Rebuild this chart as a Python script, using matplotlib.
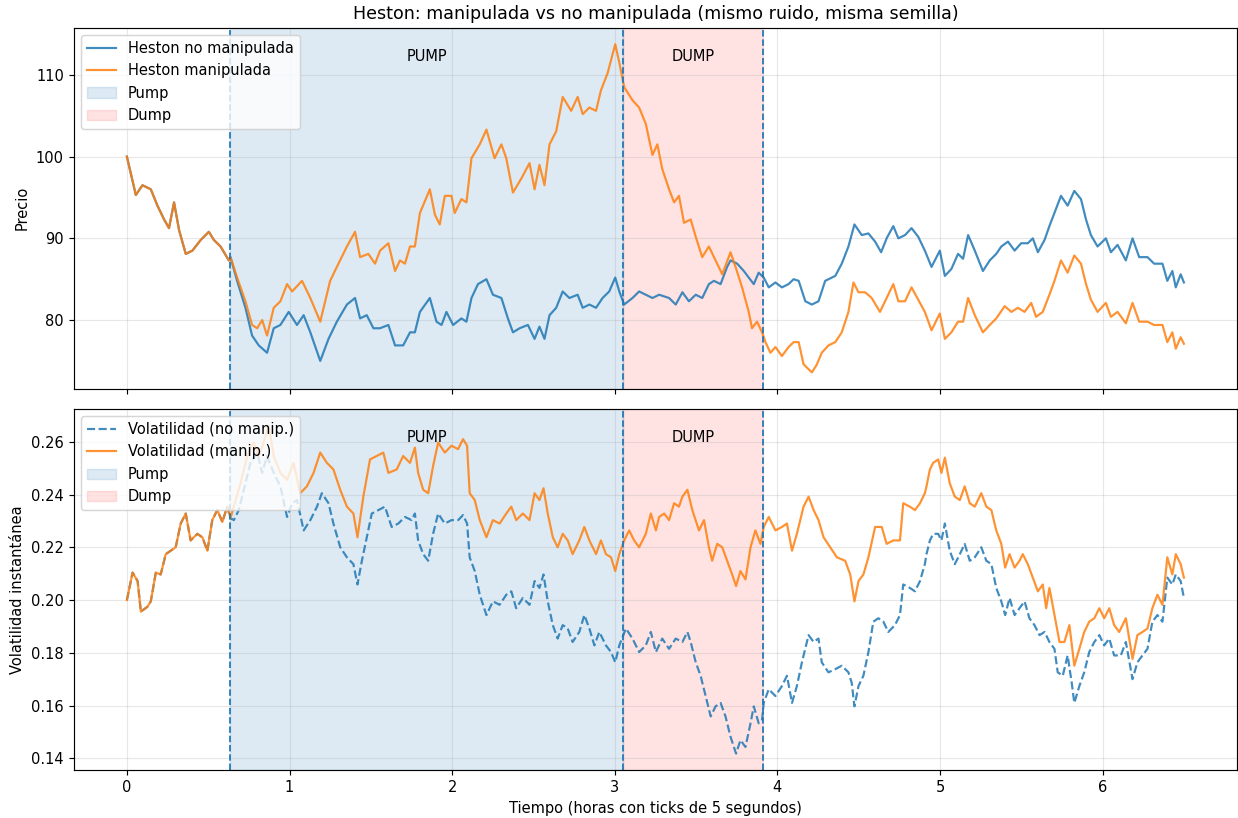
import numpy as np
import matplotlib
matplotlib.use("Agg")
import matplotlib.pyplot as plt
import matplotlib.transforms as mtransforms

# Event windows (hours)
pump_start, pump_end, dump_end = 0.637, 3.052, 3.910

# ---- Price: common path before the pump ----
t_price_pre = [0.0, 0.055, 0.096, 0.147, 0.188, 0.229, 0.259, 0.290, 0.321, 0.362,
               0.403, 0.454, 0.504, 0.535, 0.576, 0.627, 0.637]
price_pre = [100.0, 95.3, 96.5, 96.0, 94.0, 92.3, 91.25, 94.4, 91.0, 88.1,
             88.5, 89.8, 90.8, 89.8, 89.0, 87.3, 87.7]

# ---- Price without manipulation (after pump start) ----
t_price_base = [0.678, 0.729, 0.770, 0.811, 0.862, 0.903, 0.944, 0.995, 1.046, 1.087,
                1.128, 1.189, 1.240, 1.291, 1.353, 1.403, 1.434, 1.475, 1.516, 1.557,
                1.608, 1.649, 1.699, 1.741, 1.771, 1.802, 1.863, 1.904, 1.935, 1.965,
                2.006, 2.057, 2.088, 2.119, 2.159, 2.211, 2.251, 2.303, 2.343, 2.374,
                2.415, 2.466, 2.507, 2.537, 2.568, 2.599, 2.640, 2.680, 2.721, 2.772,
                2.803, 2.844, 2.885, 2.925, 2.966, 3.003, 3.028, 3.058, 3.109, 3.150,
                3.191, 3.232, 3.273, 3.334, 3.375, 3.416, 3.456, 3.498, 3.538, 3.579,
                3.610, 3.651, 3.691, 3.712, 3.753, 3.794, 3.824, 3.855, 3.885, 3.916,
                3.947, 3.988, 4.028, 4.069, 4.100, 4.131, 4.172, 4.212, 4.253, 4.294,
                4.356, 4.396, 4.437, 4.474, 4.519, 4.560, 4.601, 4.638, 4.672, 4.713,
                4.744, 4.785, 4.825, 4.866, 4.907, 4.948, 4.999, 5.030, 5.070, 5.111,
                5.142, 5.173, 5.214, 5.264, 5.306, 5.346, 5.377, 5.418, 5.459, 5.499,
                5.540, 5.571, 5.602, 5.643, 5.673, 5.704, 5.744, 5.785, 5.826, 5.867,
                5.898, 5.928, 5.969, 6.020, 6.051, 6.092, 6.143, 6.184, 6.225, 6.276,
                6.317, 6.368, 6.398, 6.429, 6.450, 6.480, 6.500]
price_base = [84.8, 81.5, 78.1, 76.9, 76.0, 79.0, 79.4, 81.0, 79.4, 80.6,
              78.5, 75.0, 77.7, 79.8, 81.9, 82.7, 80.2, 80.6, 79.0, 79.0,
              79.4, 76.9, 76.9, 78.5, 78.5, 81.0, 82.7, 79.8, 79.4, 81.0,
              79.4, 80.2, 79.8, 82.7, 84.4, 85.0, 83.1, 82.7, 80.2, 78.5,
              79.0, 79.4, 77.7, 79.2, 77.7, 80.6, 81.5, 83.5, 82.7, 83.1,
              81.5, 81.9, 81.5, 82.7, 83.5, 85.2, 83.5, 81.9, 82.7, 83.5,
              83.1, 82.7, 83.1, 82.7, 81.9, 83.4, 82.3, 83.1, 82.7, 84.4,
              84.8, 84.4, 86.5, 87.3, 86.9, 86.0, 85.2, 84.4, 85.8, 85.2,
              84.0, 84.6, 84.0, 84.4, 85.0, 84.8, 82.3, 81.9, 82.3, 84.8,
              85.4, 86.9, 89.0, 91.7, 90.4, 90.6, 89.6, 88.3, 90.0, 91.5,
              90.0, 90.4, 91.25, 90.2, 88.5, 86.5, 88.5, 85.4, 86.25, 88.1,
              87.5, 90.4, 88.5, 86.0, 87.3, 88.1, 89.0, 89.6, 88.5, 89.4,
              89.4, 90.0, 88.3, 89.8, 91.5, 93.1, 95.2, 94.0, 95.8, 94.8,
              92.3, 90.4, 89.0, 90.0, 88.3, 89.2, 87.3, 90.0, 87.7, 87.7,
              86.9, 86.9, 84.8, 86.0, 84.0, 85.6, 84.6]

# ---- Price with manipulation (after pump start) ----
t_price_manip = [0.678, 0.729, 0.770, 0.801, 0.832, 0.862, 0.903, 0.944, 0.985, 1.016,
                 1.077, 1.128, 1.189, 1.250, 1.291, 1.353, 1.403, 1.434, 1.485, 1.526,
                 1.557, 1.608, 1.649, 1.679, 1.710, 1.741, 1.771, 1.802, 1.863, 1.894,
                 1.924, 1.955, 1.996, 2.016, 2.057, 2.088, 2.119, 2.170, 2.211, 2.261,
                 2.303, 2.333, 2.374, 2.425, 2.476, 2.507, 2.537, 2.568, 2.599, 2.640,
                 2.680, 2.732, 2.772, 2.803, 2.844, 2.885, 2.915, 2.956, 3.003, 3.028,
                 3.058, 3.109, 3.150, 3.191, 3.232, 3.262, 3.292, 3.334, 3.365, 3.395,
                 3.426, 3.467, 3.498, 3.538, 3.579, 3.620, 3.661, 3.712, 3.743, 3.783,
                 3.824, 3.844, 3.875, 3.906, 3.927, 3.957, 3.988, 4.028, 4.069, 4.100,
                 4.131, 4.161, 4.212, 4.241, 4.273, 4.314, 4.356, 4.396, 4.437, 4.468,
                 4.499, 4.540, 4.580, 4.631, 4.672, 4.713, 4.744, 4.785, 4.825, 4.866,
                 4.907, 4.948, 4.999, 5.030, 5.070, 5.111, 5.142, 5.173, 5.214, 5.264,
                 5.306, 5.346, 5.398, 5.439, 5.479, 5.520, 5.561, 5.591, 5.632, 5.673,
                 5.704, 5.744, 5.785, 5.826, 5.867, 5.898, 5.928, 5.969, 6.020, 6.051,
                 6.092, 6.143, 6.184, 6.225, 6.276, 6.317, 6.368, 6.398, 6.429, 6.450,
                 6.480, 6.500]
price_manip = [85.2, 82.3, 79.4, 79.0, 80.0, 78.1, 81.5, 82.3, 84.4, 83.5,
               84.8, 82.7, 79.8, 84.8, 86.5, 89.0, 90.8, 87.7, 88.1, 86.9,
               88.5, 89.4, 86.0, 87.3, 86.9, 89.0, 89.0, 93.1, 96.0, 92.9,
               91.7, 95.2, 95.2, 93.1, 94.8, 94.4, 99.8, 101.5, 103.3, 99.8,
               101.5, 99.8, 95.6, 97.3, 99.2, 96.0, 99.0, 96.5, 101.5, 103.1,
               107.3, 105.6, 107.3, 105.2, 106.0, 105.6, 108.1, 110.2, 113.75, 111.5,
               108.5, 106.9, 106.0, 104.0, 100.2, 101.5, 98.5, 96.0, 94.4, 95.2,
               91.9, 92.3, 90.2, 87.7, 89.0, 87.3, 85.6, 88.3, 86.5, 84.0,
               81.0, 79.0, 79.8, 78.5, 77.3, 76.0, 76.7, 75.6, 76.7, 77.3,
               77.3, 74.6, 73.6, 74.5, 76.0, 76.9, 77.3, 78.5, 81.0, 84.6,
               83.4, 83.4, 82.7, 81.0, 82.7, 84.4, 82.3, 82.3, 84.0, 82.5,
               81.0, 78.75, 80.8, 77.7, 78.5, 79.8, 79.8, 82.7, 80.6, 78.5,
               79.4, 80.2, 81.7, 81.0, 81.5, 81.0, 82.1, 80.4, 81.0, 83.1,
               84.8, 87.3, 85.8, 87.9, 86.9, 84.4, 82.5, 81.0, 82.1, 80.4,
               81.0, 79.6, 82.1, 79.8, 79.8, 79.4, 79.4, 77.3, 78.5, 76.5,
               77.9, 77.1]

# ---- Volatility: common path before the pump ----
t_vol_pre = [0.0, 0.035, 0.066, 0.086, 0.127, 0.147, 0.178, 0.208, 0.239, 0.270,
             0.300, 0.331, 0.362, 0.392, 0.433, 0.464, 0.495, 0.525, 0.556, 0.587,
             0.617, 0.637]
vol_pre = [0.2000, 0.2104, 0.2072, 0.1956, 0.1975, 0.1995, 0.2104, 0.2097, 0.2174, 0.2187,
           0.2200, 0.2290, 0.2328, 0.2226, 0.2251, 0.2238, 0.2187, 0.2303, 0.2341, 0.2296,
           0.2354, 0.2310]

# ---- Volatility without manipulation (after pump start) ----
t_vol_base = [0.658, 0.688, 0.719, 0.760, 0.801, 0.832, 0.862, 0.903, 0.944, 0.985,
              1.016, 1.046, 1.087, 1.128, 1.169, 1.199, 1.240, 1.270, 1.312, 1.353,
              1.393, 1.418, 1.445, 1.475, 1.506, 1.546, 1.587, 1.628, 1.669, 1.710,
              1.751, 1.771, 1.791, 1.822, 1.853, 1.883, 1.914, 1.955, 1.996, 2.037,
              2.067, 2.092, 2.108, 2.139, 2.170, 2.211, 2.251, 2.292, 2.333, 2.364,
              2.394, 2.435, 2.476, 2.507, 2.537, 2.562, 2.588, 2.619, 2.649, 2.680,
              2.711, 2.741, 2.782, 2.813, 2.844, 2.875, 2.905, 2.946, 2.977, 3.003,
              3.028, 3.069, 3.109, 3.150, 3.191, 3.222, 3.253, 3.292, 3.334, 3.375,
              3.416, 3.447, 3.467, 3.498, 3.528, 3.569, 3.590, 3.620, 3.651, 3.681,
              3.712, 3.746, 3.773, 3.804, 3.835, 3.855, 3.885, 3.906, 3.916, 3.947,
              3.988, 4.028, 4.059, 4.090, 4.120, 4.151, 4.192, 4.223, 4.253, 4.273,
              4.314, 4.356, 4.396, 4.437, 4.457, 4.474, 4.499, 4.529, 4.560, 4.590,
              4.621, 4.652, 4.682, 4.723, 4.754, 4.774, 4.815, 4.846, 4.877, 4.907,
              4.917, 4.938, 4.958, 4.989, 5.009, 5.030, 5.060, 5.091, 5.122, 5.152,
              5.183, 5.214, 5.254, 5.285, 5.316, 5.346, 5.377, 5.401, 5.428, 5.459,
              5.489, 5.520, 5.550, 5.581, 5.612, 5.643, 5.673, 5.704, 5.724, 5.755,
              5.785, 5.810, 5.826, 5.857, 5.887, 5.918, 5.949, 5.980, 6.010, 6.041,
              6.071, 6.112, 6.143, 6.184, 6.214, 6.245, 6.276, 6.306, 6.337, 6.368,
              6.398, 6.429, 6.450, 6.480, 6.500]
vol_base = [0.2303, 0.2341, 0.2418, 0.2520, 0.2559, 0.2482, 0.2546, 0.2482, 0.2431, 0.2315,
            0.2367, 0.2379, 0.2264, 0.2303, 0.2354, 0.2405, 0.2367, 0.2290, 0.2200, 0.2162,
            0.2136, 0.2059, 0.2149, 0.2238, 0.2328, 0.2341, 0.2354, 0.2277, 0.2290, 0.2315,
            0.2303, 0.2328, 0.2226, 0.2174, 0.2149, 0.2251, 0.2328, 0.2290, 0.2303, 0.2303,
            0.2322, 0.2290, 0.2162, 0.2110, 0.2020, 0.1943, 0.1995, 0.1982, 0.2020, 0.2033,
            0.1969, 0.2008, 0.1982, 0.2072, 0.2046, 0.2097, 0.1995, 0.1905, 0.1854, 0.1905,
            0.1892, 0.1841, 0.1879, 0.1943, 0.1892, 0.1828, 0.1879, 0.1828, 0.1803, 0.1764,
            0.1828, 0.1892, 0.1854, 0.1803, 0.1828, 0.1879, 0.1803, 0.1854, 0.1815, 0.1854,
            0.1841, 0.1879, 0.1841, 0.1764, 0.1713, 0.1610, 0.1559, 0.1597, 0.1610, 0.1559,
            0.1482, 0.1418, 0.1469, 0.1443, 0.1533, 0.1597, 0.1533, 0.1546, 0.1610, 0.1662,
            0.1636, 0.1674, 0.1713, 0.1610, 0.1674, 0.1764, 0.1867, 0.1841, 0.1854, 0.1764,
            0.1726, 0.1738, 0.1751, 0.1726, 0.1687, 0.1597, 0.1674, 0.1713, 0.1803, 0.1918,
            0.1931, 0.1918, 0.1879, 0.1905, 0.1943, 0.2059, 0.2046, 0.2033, 0.2072, 0.2136,
            0.2174, 0.2226, 0.2251, 0.2251, 0.2226, 0.2290, 0.2187, 0.2136, 0.2174, 0.2213,
            0.2149, 0.2162, 0.2200, 0.2149, 0.2136, 0.2046, 0.1995, 0.1943, 0.2008, 0.1943,
            0.1969, 0.1995, 0.1931, 0.1905, 0.1867, 0.1879, 0.1841, 0.1815, 0.1726, 0.1713,
            0.1790, 0.1687, 0.1610, 0.1674, 0.1726, 0.1803, 0.1841, 0.1867, 0.1828, 0.1854,
            0.1790, 0.1790, 0.1841, 0.1700, 0.1764, 0.1790, 0.1815, 0.1918, 0.1943, 0.1918,
            0.2085, 0.2059, 0.2097, 0.2072, 0.2008]

# ---- Volatility with manipulation (after pump start) ----
t_vol_manip = [0.699, 0.740, 0.780, 0.811, 0.841, 0.872, 0.903, 0.944, 0.985, 1.025,
               1.066, 1.107, 1.148, 1.189, 1.230, 1.270, 1.312, 1.353, 1.393, 1.418,
               1.454, 1.495, 1.536, 1.577, 1.608, 1.659, 1.699, 1.741, 1.771, 1.791,
               1.822, 1.853, 1.883, 1.914, 1.955, 1.996, 2.037, 2.067, 2.092, 2.108,
               2.139, 2.170, 2.211, 2.251, 2.292, 2.333, 2.364, 2.394, 2.435, 2.476,
               2.507, 2.537, 2.562, 2.588, 2.619, 2.649, 2.680, 2.711, 2.741, 2.782,
               2.813, 2.844, 2.885, 2.915, 2.946, 2.977, 3.003, 3.028, 3.058, 3.089,
               3.119, 3.150, 3.191, 3.222, 3.253, 3.273, 3.304, 3.334, 3.365, 3.395,
               3.416, 3.447, 3.477, 3.518, 3.549, 3.579, 3.599, 3.630, 3.661, 3.691,
               3.722, 3.746, 3.773, 3.804, 3.835, 3.865, 3.896, 3.916, 3.947, 3.988,
               4.028, 4.059, 4.090, 4.120, 4.161, 4.192, 4.223, 4.253, 4.284, 4.325,
               4.366, 4.417, 4.448, 4.474, 4.499, 4.529, 4.560, 4.601, 4.642, 4.672,
               4.713, 4.754, 4.774, 4.815, 4.846, 4.877, 4.907, 4.917, 4.938, 4.958,
               4.989, 5.009, 5.030, 5.060, 5.091, 5.122, 5.152, 5.183, 5.214, 5.254,
               5.285, 5.316, 5.346, 5.377, 5.401, 5.428, 5.459, 5.489, 5.509, 5.540,
               5.571, 5.602, 5.632, 5.653, 5.673, 5.704, 5.735, 5.765, 5.796, 5.826,
               5.857, 5.887, 5.918, 5.949, 5.980, 6.010, 6.041, 6.071, 6.102, 6.143,
               6.184, 6.214, 6.245, 6.276, 6.306, 6.337, 6.368, 6.398, 6.429, 6.450,
               6.480, 6.500]
vol_manip = [0.2443, 0.2546, 0.2597, 0.2546, 0.2597, 0.2662, 0.2546, 0.2482, 0.2456, 0.2520,
             0.2405, 0.2431, 0.2482, 0.2559, 0.2520, 0.2495, 0.2418, 0.2354, 0.2328, 0.2238,
             0.2392, 0.2533, 0.2546, 0.2559, 0.2482, 0.2495, 0.2546, 0.2520, 0.2578, 0.2482,
             0.2418, 0.2405, 0.2508, 0.2597, 0.2559, 0.2585, 0.2572, 0.2610, 0.2585, 0.2405,
             0.2379, 0.2303, 0.2238, 0.2303, 0.2290, 0.2328, 0.2354, 0.2303, 0.2328, 0.2303,
             0.2405, 0.2379, 0.2424, 0.2328, 0.2238, 0.2200, 0.2251, 0.2226, 0.2174, 0.2226,
             0.2277, 0.2226, 0.2174, 0.2226, 0.2174, 0.2162, 0.2110, 0.2174, 0.2226, 0.2264,
             0.2226, 0.2200, 0.2251, 0.2328, 0.2264, 0.2315, 0.2328, 0.2303, 0.2367, 0.2354,
             0.2392, 0.2418, 0.2341, 0.2264, 0.2303, 0.2200, 0.2149, 0.2213, 0.2200, 0.2149,
             0.2097, 0.2053, 0.2110, 0.2078, 0.2200, 0.2264, 0.2213, 0.2277, 0.2315, 0.2264,
             0.2277, 0.2290, 0.2187, 0.2251, 0.2354, 0.2392, 0.2341, 0.2303, 0.2238, 0.2200,
             0.2162, 0.2149, 0.2097, 0.1995, 0.2072, 0.2097, 0.2162, 0.2277, 0.2277, 0.2213,
             0.2226, 0.2226, 0.2367, 0.2354, 0.2341, 0.2367, 0.2405, 0.2431, 0.2495, 0.2520,
             0.2533, 0.2482, 0.2540, 0.2443, 0.2392, 0.2379, 0.2431, 0.2367, 0.2354, 0.2405,
             0.2354, 0.2341, 0.2264, 0.2213, 0.2123, 0.2174, 0.2123, 0.2149, 0.2174, 0.2136,
             0.2085, 0.2033, 0.2059, 0.1969, 0.2046, 0.1943, 0.1841, 0.1841, 0.1905, 0.1751,
             0.1815, 0.1879, 0.1918, 0.1931, 0.1969, 0.1931, 0.1969, 0.1905, 0.1879, 0.1931,
             0.1777, 0.1867, 0.1879, 0.1892, 0.1969, 0.2020, 0.1982, 0.2162, 0.2097, 0.2174,
             0.2136, 0.2085]

C_BASE = "#1f77b4"
C_MANIP = "#ff7f0e"

DPI = 105
fig, (ax1, ax2) = plt.subplots(2, 1, figsize=(1238 / DPI, 818 / DPI), dpi=DPI, sharex=True)
fig.subplots_adjust(left=0.0598, right=0.999, top=0.966, bottom=0.0587, hspace=0.056)

# Upper panel: price paths
ax1.plot(np.concatenate([t_price_pre, t_price_base]),
         np.concatenate([price_pre, price_base]),
         color=C_BASE, lw=1.5, alpha=0.85, label="Heston no manipulada")
ax1.plot(np.concatenate([t_price_pre, t_price_manip]),
         np.concatenate([price_pre, price_manip]),
         color=C_MANIP, lw=1.5, alpha=0.85, label="Heston manipulada")

# Lower panel: instantaneous volatility
ax2.plot(np.concatenate([t_vol_pre, t_vol_base]),
         np.concatenate([vol_pre, vol_base]),
         color=C_BASE, lw=1.5, ls="--", alpha=0.85, label="Volatilidad (no manip.)")
ax2.plot(np.concatenate([t_vol_pre, t_vol_manip]),
         np.concatenate([vol_pre, vol_manip]),
         color=C_MANIP, lw=1.5, alpha=0.85, label="Volatilidad (manip.)")

for ax in (ax1, ax2):
    ax.axvspan(pump_start, pump_end, color=C_BASE, alpha=0.15, label="Pump")
    ax.axvspan(pump_end, dump_end, color="red", alpha=0.11, label="Dump")
    for xv in (pump_start, pump_end, dump_end):
        ax.axvline(xv, color=C_BASE, ls="--", lw=1.2)
    trans = mtransforms.blended_transform_factory(ax.transData, ax.transAxes)
    ax.text((pump_start + pump_end) / 2, 0.92, "PUMP", transform=trans,
            ha="center", va="center", fontsize=10)
    ax.text((pump_end + dump_end) / 2, 0.92, "DUMP", transform=trans,
            ha="center", va="center", fontsize=10)
    ax.grid(True, alpha=0.3)
    ax.legend(loc="upper left")

ax1.set_title("Heston: manipulada vs no manipulada (mismo ruido, misma semilla)", fontsize=12)
ax1.set_ylabel("Precio")
ax2.set_ylabel("Volatilidad instantánea")
ax2.set_xlabel("Tiempo (horas con ticks de 5 segundos)")
ax1.set_yticks([80, 90, 100, 110])
ax2.set_yticks([0.14, 0.16, 0.18, 0.20, 0.22, 0.24, 0.26])

fig.savefig("out.png", dpi=DPI)
